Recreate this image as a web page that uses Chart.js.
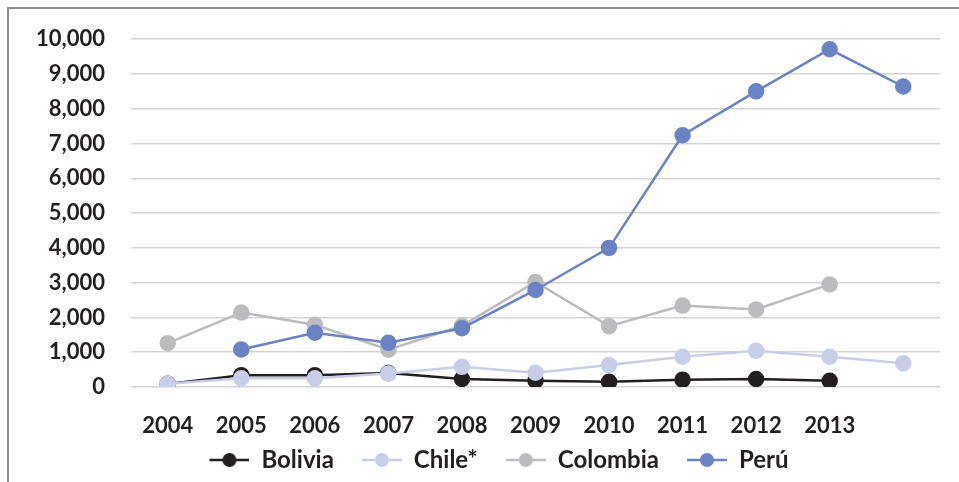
<!DOCTYPE html>
<html>
<head>
<meta charset="utf-8">
<script src="https://cdn.jsdelivr.net/npm/chart.js@4"></script>
<style>
  html, body { margin: 0; padding: 0; background: #fff; overflow: hidden; }
  #wrap { position: relative; width: 959px; height: 482px; }
  #frame { position: absolute; left: 7px; top: 7px; width: 1000px; height: 1000px; border: 2px solid #8c8c8c; box-sizing: border-box; }
  canvas { position: absolute; left: 0; top: 0; }
</style>
</head>
<body>
<div id="wrap">
  <div id="frame"></div>
  <canvas id="chart" width="959" height="482"></canvas>
</div>
<script>
// data
const years = ["2004", "2005", "2006", "2007", "2008", "2009", "2010", "2011", "2012", "2013", ""];
const bolivia = [90, 340, 340, 400, 230, 180, 150, 210, 230, 180, null];
const chile = [90, 250, 250, 390, 580, 410, 630, 870, 1040, 870, 680];
const colombia = [1260, 2140, 1790, 1070, 1760, 3020, 1750, 2340, 2230, 2950, null];
const peru = [null, 1080, 1560, 1270, 1690, 2790, 4000, 7240, 8500, 9710, 8640];

const textColor = "#231f20";
const fontFamily = "Lato, 'Open Sans', sans-serif";

// legend marker: line with a dot in the middle (blank lead-in keeps items apart)
function legendMarker(color) {
    const c = document.createElement("canvas");
    c.width = 58;
    c.height = 16;
    const g = c.getContext("2d");
    g.strokeStyle = color;
    g.lineWidth = 2.5;
    g.beginPath();
    g.moveTo(18, 8);
    g.lineTo(58, 8);
    g.stroke();
    g.fillStyle = color;
    g.beginPath();
    g.arc(38, 8, 7, 0, Math.PI * 2);
    g.fill();
    return c;
}

function makeSet(label, data, color, order) {
    return {
        label: label,
        data: data,
        borderColor: color,
        backgroundColor: color,
        pointBackgroundColor: color,
        pointBorderColor: color,
        borderWidth: 2.5,
        pointRadius: 7,
        pointHoverRadius: 7,
        spanGaps: false,
        order: order,
        marker: legendMarker(color)
    };
}

// nudge the legend a bit right, like the original
const legendShift = {
    id: "legendShift",
    afterLayout(chart) {
        if (chart.legend) {
            chart.legend.left += 10;
            chart.legend.right += 10;
        }
    }
};

new Chart(document.getElementById("chart"), {
    type: "line",
    data: {
        labels: years,
        datasets: [
            makeSet("Bolivia", bolivia, "#231f20", 4),
            makeSet("Chile*", chile, "#c8cde8", 3),
            makeSet("Colombia", colombia, "#bcbcbe", 2),
            makeSet("Perú", peru, "#6b82c4", 1)
        ]
    },
    plugins: [legendShift],
    options: {
        responsive: false,
        animation: false,
        layout: { padding: { left: 20, right: 19, top: 29, bottom: 0 } },
        scales: {
            x: {
                offset: true,
                grid: { display: false, drawTicks: false },
                border: { display: false },
                ticks: {
                    color: textColor,
                    padding: 26,
                    maxRotation: 0,
                    autoSkip: false,
                    font: { family: fontFamily, size: 22, weight: "bold" }
                },
                afterFit: s => { s.height = 51; }
            },
            y: {
                min: 0,
                max: 10000,
                grid: { color: "#d4d4d4", lineWidth: 1.5, drawTicks: false },
                border: { display: false },
                ticks: {
                    stepSize: 1000,
                    color: textColor,
                    padding: 26,
                    font: { family: fontFamily, size: 22, weight: "bold" },
                    callback: v => v.toLocaleString("en-US")
                },
                afterFit: s => { s.width = 111; }
            }
        },
        plugins: {
            tooltip: { enabled: false },
            legend: {
                position: "bottom",
                labels: {
                    color: textColor,
                    usePointStyle: true,
                    pointStyleWidth: 58,
                    padding: 10,
                    font: { family: fontFamily, size: 24, weight: "bold" },
                    sort: (a, b) => a.datasetIndex - b.datasetIndex,
                    generateLabels: chart => {
                        const items = Chart.defaults.plugins.legend.labels.generateLabels(chart);
                        items.forEach(it => {
                            it.pointStyle = chart.data.datasets[it.datasetIndex].marker;
                        });
                        return items;
                    }
                }
            }
        }
    }
});
</script>
</body>
</html>
